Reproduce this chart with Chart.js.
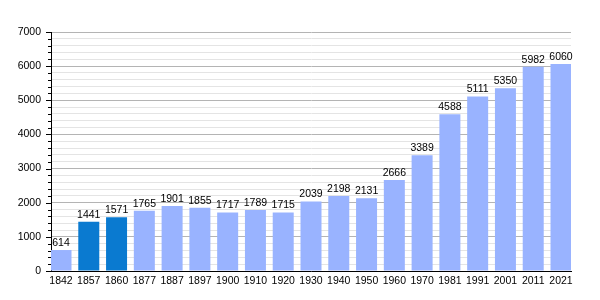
<!DOCTYPE html>
<html><head><meta charset="utf-8">
<script src="https://cdn.jsdelivr.net/npm/chart.js@4"></script>
<style>html,body{margin:0;padding:0;background:#fff}#w{width:600px;height:300px}</style>
</head><body><div id="w"><canvas id="c"></canvas></div>
<script>
const years = ['1842','1857','1860','1877','1887','1897','1900','1910','1920','1930','1940','1950','1960','1970','1981','1991','2001','2011','2021'];
const population = [614,1441,1571,1765,1901,1855,1717,1789,1715,2039,2198,2131,2666,3389,4588,5111,5350,5982,6060];
const highlighted = ['1857','1860'];
const yMax = 7000, yStep = 200, yLabelStep = 1000;

const lightColor = '#99b3ff', darkColor = '#0a7ad0';
const barColors = years.map(y => highlighted.includes(y) ? darkColor : lightColor);

const FONT = 'Liberation Sans, Arial, sans-serif';
const FSIZE = 10.5;

const extras = {
  id: 'extras',
  afterDatasetsDraw(chart) {
    const ctx = chart.ctx;
    const meta = chart.getDatasetMeta(0);
    ctx.save();
    ctx.font = FSIZE + 'px ' + FONT;
    ctx.fillStyle = '#000';
    ctx.textAlign = 'center';
    ctx.textBaseline = 'alphabetic';
    meta.data.forEach((bar, i) => {
      ctx.fillText(String(population[i]), bar.x, bar.y - 4);
    });
    const ys = chart.scales.y;
    const left = chart.chartArea.left;
    ctx.strokeStyle = '#000';
    ctx.lineWidth = 1;
    ys.ticks.forEach(t => {
      const py = Math.round(ys.getPixelForValue(t.value)) + 0.5;
      const len = (t.value % yLabelStep === 0) ? 5 : 3;
      ctx.beginPath();
      ctx.moveTo(left - len, py);
      ctx.lineTo(left, py);
      ctx.stroke();
    });
    ctx.restore();
  }
};

new Chart(document.getElementById('c'), {
  type: 'bar',
  data: {
    labels: years,
    datasets: [{ data: population, backgroundColor: barColors, borderWidth: 0,
      barPercentage: 0.84, categoryPercentage: 0.9 }]
  },
  options: {
    responsive: true, maintainAspectRatio: false, animation: false,
    layout: { padding: { top: 32, right: 29, left: 0, bottom: 0 } },
    plugins: { legend: { display: false }, tooltip: { enabled: false } },
    scales: {
      x: {
        offset: false,
        grid: { display: false, drawTicks: false },
        border: { color: '#000', width: 1 },
        ticks: { color: '#000', font: { family: FONT, size: FSIZE }, padding: 4, maxRotation: 0, autoSkip: false },
        afterBuildTicks: s => {
          s._startValue = -0.36;
          s._valueRange = 18.72;
        },
        afterFit: s => { s.height = 29; }
      },
      y: {
        min: 0, max: yMax,
        grid: {
          drawTicks: false,
          color: c => (c.tick && c.tick.value % yLabelStep === 0) ? '#b4b4b4' : '#e4e4e4'
        },
        border: { color: '#000', width: 1 },
        ticks: {
          stepSize: yStep, autoSkip: false, color: '#000', padding: 10,
          font: { family: FONT, size: FSIZE },
          callback: v => (v % yLabelStep === 0) ? String(v) : ''
        },
        afterFit: s => { s.width = 51; }
      }
    }
  },
  plugins: [extras]
});
</script></body></html>
